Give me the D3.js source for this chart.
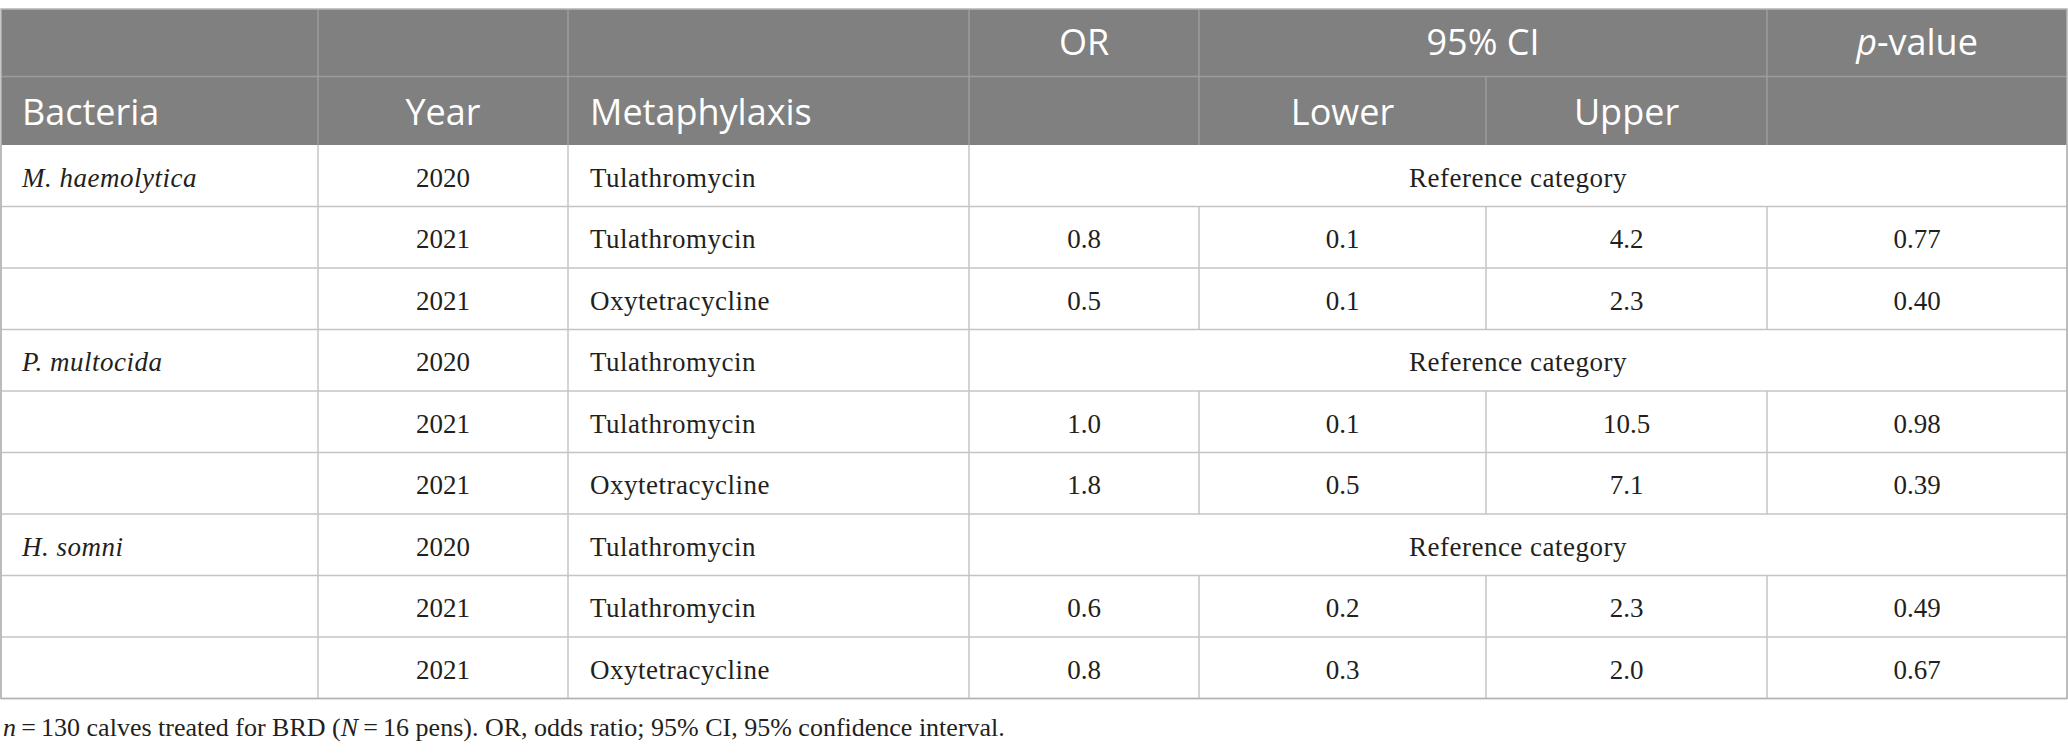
<!DOCTYPE html>
<html>
<head>
<meta charset="utf-8">
<script src="https://cdn.jsdelivr.net/npm/d3@7"></script>
<style>
  body { margin: 0; background: #fff; }
</style>
</head>
<body>
<div id="table"></div>
<script>
// table data
var bacteria = ["M. haemolytica", "", "", "P. multocida", "", "", "H. somni", "", ""];
var years = ["2020", "2021", "2021", "2020", "2021", "2021", "2020", "2021", "2021"];
var metaphylaxis = ["Tulathromycin", "Tulathromycin", "Oxytetracycline",
                    "Tulathromycin", "Tulathromycin", "Oxytetracycline",
                    "Tulathromycin", "Tulathromycin", "Oxytetracycline"];
var oddsRatio = [null, "0.8", "0.5", null, "1.0", "1.8", null, "0.6", "0.8"];
var ciLower = [null, "0.1", "0.1", null, "0.1", "0.5", null, "0.2", "0.3"];
var ciUpper = [null, "4.2", "2.3", null, "10.5", "7.1", null, "2.3", "2.0"];
var pValues = [null, "0.77", "0.40", null, "0.98", "0.39", null, "0.49", "0.67"];
var refLabel = "Reference category";

window.W = 2068;
window.H = 754;
window.headFont = "'Open Sans', 'DejaVu Sans', sans-serif";
window.bodyFont = "'Liberation Serif', 'DejaVu Serif', serif";
window.headColor = "#808080";
window.headLine = "#9c9c9c";
window.bodyLine = "#c4c4c4";
window.textColor = "#231f20";

// column edges
var colEdges = [1, 318, 568, 969, 1199, 1486, 1767, 2067];

function colCenter(i){
    return (colEdges[i] + colEdges[i+1]) / 2;
}

function drawTable(){
    var svg = d3.select("#table").append("svg")
        .attr("width", W)
        .attr("height", H);

    var headTop = 9, headMid = 76.5, headBottom = 145;
    var rows = d3.scaleBand()
        .domain(d3.range(bacteria.length))
        .range([headBottom, 698.5]);

    //HEADER
    svg.append("rect")
        .attr("x", colEdges[0]).attr("y", headTop)
        .attr("width", colEdges[7] - colEdges[0])
        .attr("height", headBottom - headTop)
        .attr("fill", headColor);

    var hl = svg.append("g")
        .attr("stroke", headLine)
        .attr("stroke-width", 1.5);
    hl.append("line").attr("x1", colEdges[0]).attr("x2", colEdges[7])
        .attr("y1", headMid).attr("y2", headMid);
    [1, 2, 3, 4, 6].forEach(function(c){
        hl.append("line").attr("x1", colEdges[c]).attr("x2", colEdges[c])
            .attr("y1", headTop).attr("y2", headBottom);
    });
    hl.append("line").attr("x1", colEdges[5]).attr("x2", colEdges[5])
        .attr("y1", headMid).attr("y2", headBottom);

    var headText = [
        {t: "OR", x: colCenter(3), y: headTop + 46, anchor: "middle"},
        {t: "95% CI", x: (colEdges[4] + colEdges[6]) / 2, y: headTop + 46, anchor: "middle"},
        {t: "-value", p: true, x: colCenter(6), y: headTop + 46, anchor: "middle"},
        {t: "Bacteria", x: 22, y: headMid + 48.5, anchor: "start"},
        {t: "Year", x: colCenter(1), y: headMid + 48.5, anchor: "middle"},
        {t: "Metaphylaxis", x: colEdges[2] + 22, y: headMid + 48.5, anchor: "start"},
        {t: "Lower", x: colCenter(4), y: headMid + 48.5, anchor: "middle"},
        {t: "Upper", x: colCenter(5), y: headMid + 48.5, anchor: "middle"}
    ];
    var ht = svg.selectAll("text.head")
        .data(headText)
        .enter()
        .append("text")
        .attr("class", "head")
        .attr("x", function(d){ return d.x; })
        .attr("y", function(d){ return d.y; })
        .attr("text-anchor", function(d){ return d.anchor; })
        .attr("fill", "white")
        .attr("font-family", headFont)
        .attr("font-size", 36);
    ht.each(function(d){
        var el = d3.select(this);
        if(d.p){
            el.append("tspan").attr("font-style", "italic").text("p");
        }
        el.append("tspan").text(d.t);
    });

    //BODY GRID
    var bl = svg.append("g")
        .attr("stroke", bodyLine)
        .attr("stroke-width", 1.5);
    bl.selectAll("line.h")
        .data(d3.range(bacteria.length))
        .enter()
        .append("line")
        .attr("x1", colEdges[0]).attr("x2", colEdges[7])
        .attr("y1", function(i){ return rows(i) + rows.bandwidth(); })
        .attr("y2", function(i){ return rows(i) + rows.bandwidth(); });
    d3.range(bacteria.length).forEach(function(i){
        var cols = oddsRatio[i] === null ? [0, 1, 2, 3, 7] : [0, 1, 2, 3, 4, 5, 6, 7];
        cols.forEach(function(c){
            bl.append("line")
                .attr("x1", colEdges[c]).attr("x2", colEdges[c])
                .attr("y1", rows(i)).attr("y2", rows(i) + rows.bandwidth());
        });
    });
    // outer border
    svg.append("rect")
        .attr("x", colEdges[0]).attr("y", headTop)
        .attr("width", colEdges[7] - colEdges[0])
        .attr("height", 698.5 - headTop)
        .attr("fill", "none")
        .attr("stroke", "#b4b4b4")
        .attr("stroke-width", 1.5);

    //BODY TEXT
    var groups = svg.selectAll("g.row")
        .data(d3.range(bacteria.length))
        .enter()
        .append("g")
        .attr("class", "row")
        .attr("transform", function(i){ return "translate(0," + (rows(i) + 41.5) + ")"; })
        .attr("font-family", bodyFont)
        .attr("font-size", 27)
        .attr("fill", textColor);

    groups.append("text")
        .attr("x", 22)
        .attr("font-style", "italic")
        .attr("letter-spacing", 0.5)
        .text(function(i){ return bacteria[i]; });
    groups.append("text")
        .attr("x", colCenter(1))
        .attr("text-anchor", "middle")
        .text(function(i){ return years[i]; });
    groups.append("text")
        .attr("x", colEdges[2] + 22)
        .attr("letter-spacing", 0.5)
        .text(function(i){ return metaphylaxis[i]; });

    groups.filter(function(i){ return oddsRatio[i] === null; })
        .append("text")
        .attr("x", (colEdges[3] + colEdges[7]) / 2)
        .attr("text-anchor", "middle")
        .attr("letter-spacing", 0.5)
        .text(refLabel);

    var valCols = [[oddsRatio, 3], [ciLower, 4], [ciUpper, 5], [pValues, 6]];
    valCols.forEach(function(vc){
        groups.filter(function(i){ return vc[0][i] !== null; })
            .append("text")
            .attr("x", colCenter(vc[1]))
            .attr("text-anchor", "middle")
            .text(function(i){ return vc[0][i]; });
    });

    //FOOTNOTE
    var foot = svg.append("text")
        .attr("x", 3)
        .attr("y", 736)
        .attr("font-family", bodyFont)
        .attr("font-size", 26)
        .attr("fill", textColor);
    foot.append("tspan").attr("font-style", "italic").text("n");
    foot.append("tspan").text("\u2009=\u2009130 calves treated for BRD (");
    foot.append("tspan").attr("font-style", "italic").text("N");
    foot.append("tspan").text("\u2009=\u200916 pens). OR, odds ratio; 95% CI, 95% confidence interval.");
}

drawTable();
</script>
</body>
</html>
